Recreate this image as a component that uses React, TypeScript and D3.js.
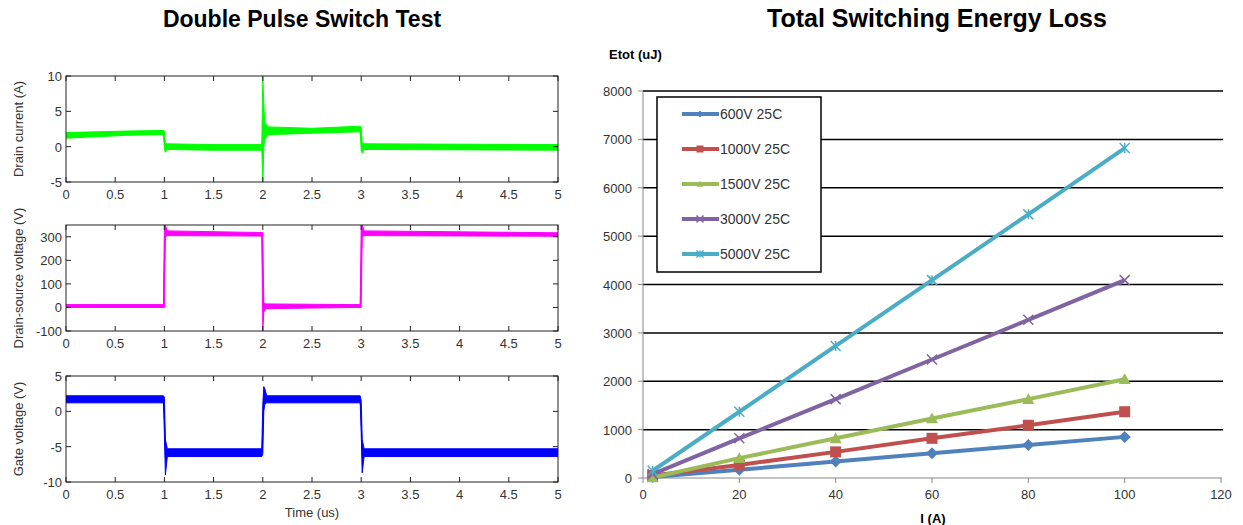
import React from "react";
import * as d3 from "d3";

// ---------- Left: double pulse waveforms (t in us, [t, low, high] noise envelope) ----------
const timeTicks = [0, 0.5, 1, 1.5, 2, 2.5, 3, 3.5, 4, 4.5, 5];

const drainCurrent: [number, number, number][] = [
  [0, 1.2, 2.0], [0.3, 1.4, 2.1], [0.6, 1.6, 2.2], [0.99, 1.7, 2.3],
  [1.0, -0.3, 2.2], [1.01, -0.8, 0.5], [1.03, -0.4, 0.4], [1.5, -0.5, 0.3], [1.99, -0.5, 0.3],
  [2.0, -5, 10], [2.005, -3, 8], [2.01, 0, 6], [2.02, 1.0, 3.5], [2.05, 1.7, 2.8],
  [2.5, 1.9, 2.6], [2.99, 2.1, 2.9],
  [3.0, -0.5, 2.8], [3.01, -0.9, 0.6], [3.03, -0.4, 0.4], [5, -0.5, 0.3],
];
const drainSource: [number, number, number][] = [
  [0, 0, 12], [0.99, 0, 12], [1.0, 0, 350], [1.01, 300, 350], [1.03, 305, 325],
  [1.99, 303, 318], [2.0, -100, 318], [2.01, -20, 20], [2.03, -5, 15], [2.99, 0, 12],
  [3.0, 0, 350], [3.01, 300, 350], [3.03, 305, 325], [5, 302, 317],
];
const gateVoltage: [number, number, number][] = [
  [0, 1.2, 2.2], [0.99, 1.2, 2.2], [1.0, -3, 2.0], [1.01, -9, -4], [1.03, -6.4, -5.3],
  [1.99, -6.4, -5.3], [2.0, -6, 1], [2.01, 0, 3.5], [2.02, 1.0, 3.2], [2.04, 1.2, 2.2],
  [2.99, 1.2, 2.2], [3.0, -3, 1.5], [3.01, -8.7, -4], [3.03, -6.4, -5.3], [5, -6.4, -5.3],
];
const currentTicks = [-5, 0, 5, 10];
const vdsTicks = [-100, 0, 100, 200, 300];
const gateTicks = [-10, -5, 0, 5];

// ---------- Right: switching energy ----------
const currents = [2, 20, 40, 60, 80, 100];
const e600 = [20, 170, 340, 510, 680, 850];
const e1000 = [50, 270, 540, 820, 1090, 1370];
const e1500 = [10, 410, 820, 1230, 1630, 2040];
const e3000 = [80, 820, 1630, 2450, 3270, 4090];
const e5000 = [150, 1370, 2730, 4090, 5450, 6820];
const seriesNames = ["600V 25C", "1000V 25C", "1500V 25C", "3000V 25C", "5000V 25C"];
const energyTicks = [0, 1000, 2000, 3000, 4000, 5000, 6000, 7000, 8000];
const currentAxisTicks = [0, 20, 40, 60, 80, 100, 120];

const FONT = "Arial, 'Liberation Sans', sans-serif";

function Marker({ type, x, y, s, color }: { type: string; x: number; y: number; s: number; color: string }) {
  const h = s / 2;
  if (type === "diamond")
    return <path d={`M${x},${y - h}L${x + h},${y}L${x},${y + h}L${x - h},${y}Z`} fill={color} />;
  if (type === "square")
    return <rect x={x - h} y={y - h} width={s} height={s} fill={color} />;
  if (type === "triangle")
    return <path d={`M${x},${y - h}L${x + h},${y + h * 0.8}L${x - h},${y + h * 0.8}Z`} fill={color} />;
  if (type === "x")
    return (
      <path d={`M${x - h},${y - h}L${x + h},${y + h}M${x + h},${y - h}L${x - h},${y + h}`} stroke={color} strokeWidth={1.5} />
    );
  return (
    <path
      d={`M${x - h},${y - h}L${x + h},${y + h}M${x + h},${y - h}L${x - h},${y + h}M${x},${y - h}L${x},${y + h}`}
      stroke={color}
      strokeWidth={1.5}
    />
  );
}

function Panel({ top, bottom, domain, ticks, label, color, data, showXLabel }: any) {
  const left = 66, right = 558;
  const x = d3.scaleLinear().domain([0, 5]).range([left, right]);
  const y = d3.scaleLinear().domain(domain).range([bottom, top]);
  const area = d3
    .area<[number, number, number]>()
    .x((d) => x(d[0]))
    .y0((d) => y(d[1]))
    .y1((d) => y(d[2]));
  const mid = d3
    .line<[number, number, number]>()
    .x((d) => x(d[0]))
    .y((d) => y((d[1] + d[2]) / 2));
  const tl = 5;
  return (
    <g>
      <defs>
        <clipPath id={`clip${top}`}>
          <rect x={left} y={top} width={right - left} height={bottom - top} />
        </clipPath>
      </defs>
      <g clipPath={`url(#clip${top})`}>
        <path d={area(data) || ""} fill={color} stroke={color} strokeWidth={1} />
        <path d={mid(data) || ""} fill="none" stroke={color} strokeWidth={1} />
      </g>
      <rect x={left} y={top} width={right - left} height={bottom - top} fill="none" stroke="#222" strokeWidth={1} />
      {timeTicks.map((t) => (
        <g key={t}>
          <line x1={x(t)} x2={x(t)} y1={bottom} y2={bottom - tl} stroke="#222" />
          <line x1={x(t)} x2={x(t)} y1={top} y2={top + tl} stroke="#222" />
          <text x={x(t)} y={bottom + 17} textAnchor="middle" fontSize={13} fill="#333" fontFamily={FONT}>
            {t}
          </text>
        </g>
      ))}
      {ticks.map((v: number) => (
        <g key={v}>
          <line x1={left} x2={left + tl} y1={y(v)} y2={y(v)} stroke="#222" />
          <line x1={right} x2={right - tl} y1={y(v)} y2={y(v)} stroke="#222" />
          <text x={left - 4} y={y(v) + 5} textAnchor="end" fontSize={13} fill="#333" fontFamily={FONT}>
            {v}
          </text>
        </g>
      ))}
      <text
        transform={`translate(23,${(top + bottom) / 2}) rotate(-90)`}
        textAnchor="middle"
        fontSize={13}
        fill="#333"
        fontFamily={FONT}
      >
        {label}
      </text>
      {showXLabel && (
        <text x={(left + right) / 2} y={517} textAnchor="middle" fontSize={13} fill="#333" fontFamily={FONT}>
          Time (us)
        </text>
      )}
    </g>
  );
}

export default function App() {
  const xE = d3.scaleLinear().domain([0, 120]).range([643, 1221]);
  const yE = d3.scaleLinear().domain([0, 8000]).range([478, 91]);
  const series = [
    { name: seriesNames[0], values: e600, color: "#4F81BD", marker: "diamond", size: 12 },
    { name: seriesNames[1], values: e1000, color: "#C0504D", marker: "square", size: 11 },
    { name: seriesNames[2], values: e1500, color: "#9BBB59", marker: "triangle", size: 12 },
    { name: seriesNames[3], values: e3000, color: "#8064A2", marker: "x", size: 10 },
    { name: seriesNames[4], values: e5000, color: "#4BACC6", marker: "star", size: 10 },
  ];
  const line = d3
    .line<number>()
    .x((_, i) => xE(currents[i]))
    .y((d) => yE(d));

  return (
    <svg width={1243} height={525} style={{ position: "absolute", left: 0, top: 0, background: "#fff" }}>
      <rect width={1243} height={525} fill="#fff" />
      <text x={302} y={27} textAnchor="middle" fontSize={23} fontWeight="bold" fontFamily={FONT} fill="#000">
        Double Pulse Switch Test
      </text>
      <Panel top={76} bottom={182} domain={[-5, 10]} ticks={currentTicks} label="Drain current (A)" color="#00ff00" data={drainCurrent} />
      <Panel top={225} bottom={331} domain={[-100, 350]} ticks={vdsTicks} label="Drain-source voltage (V)" color="#ff00ff" data={drainSource} />
      <Panel top={376} bottom={482} domain={[-10, 5]} ticks={gateTicks} label="Gate voltage (V)" color="#0000ff" data={gateVoltage} showXLabel />

      <text x={937} y={27} textAnchor="middle" fontSize={25} fontWeight="bold" fontFamily={FONT} fill="#000">
        Total Switching Energy Loss
      </text>
      <text x={609} y={59} fontSize={13} fontWeight="bold" fontFamily={FONT} fill="#000">
        Etot (uJ)
      </text>
      {energyTicks.map((v) => (
        <g key={v}>
          {v > 0 && <line x1={643} x2={1223} y1={yE(v)} y2={yE(v)} stroke="#000" strokeWidth={1.5} />}
          <line x1={638} x2={643} y1={yE(v)} y2={yE(v)} stroke="#888" />
          <text x={632} y={yE(v) + 5} textAnchor="end" fontSize={13} fill="#333" fontFamily={FONT}>
            {v}
          </text>
        </g>
      ))}
      <line x1={643} x2={643} y1={yE(8000)} y2={yE(0)} stroke="#888" strokeWidth={1} />
      <line x1={643} x2={1222} y1={yE(0)} y2={yE(0)} stroke="#888" strokeWidth={1} />
      {currentAxisTicks.map((v) => (
        <g key={v}>
          <line x1={xE(v)} x2={xE(v)} y1={478} y2={483} stroke="#888" />
          <text x={xE(v)} y={499} textAnchor="middle" fontSize={13} fill="#333" fontFamily={FONT}>
            {v}
          </text>
        </g>
      ))}
      <text x={933} y={523} textAnchor="middle" fontSize={13} fontWeight="bold" fontFamily={FONT} fill="#000">
        I (A)
      </text>
      {series.map((s) => (
        <g key={s.name}>
          <path d={line(s.values) || ""} fill="none" stroke={s.color} strokeWidth={4} strokeLinejoin="round" />
          {s.values.map((v, i) => (
            <Marker key={i} type={s.marker} x={xE(currents[i])} y={yE(v)} s={s.size} color={s.color} />
          ))}
        </g>
      ))}
      <rect x={657} y={97} width={164} height={175} fill="#fff" stroke="#000" strokeWidth={1.5} />
      {series.map((s, i) => {
        const ly = 114 + i * 35;
        return (
          <g key={s.name}>
            <line x1={682} x2={719} y1={ly} y2={ly} stroke={s.color} strokeWidth={4} />
            <Marker type={s.marker} x={700} y={ly} s={7} color={s.color} />
            <text x={720} y={ly + 5} fontSize={14} fill="#333" fontFamily={FONT}>
              {s.name}
            </text>
          </g>
        );
      })}
    </svg>
  );
}
